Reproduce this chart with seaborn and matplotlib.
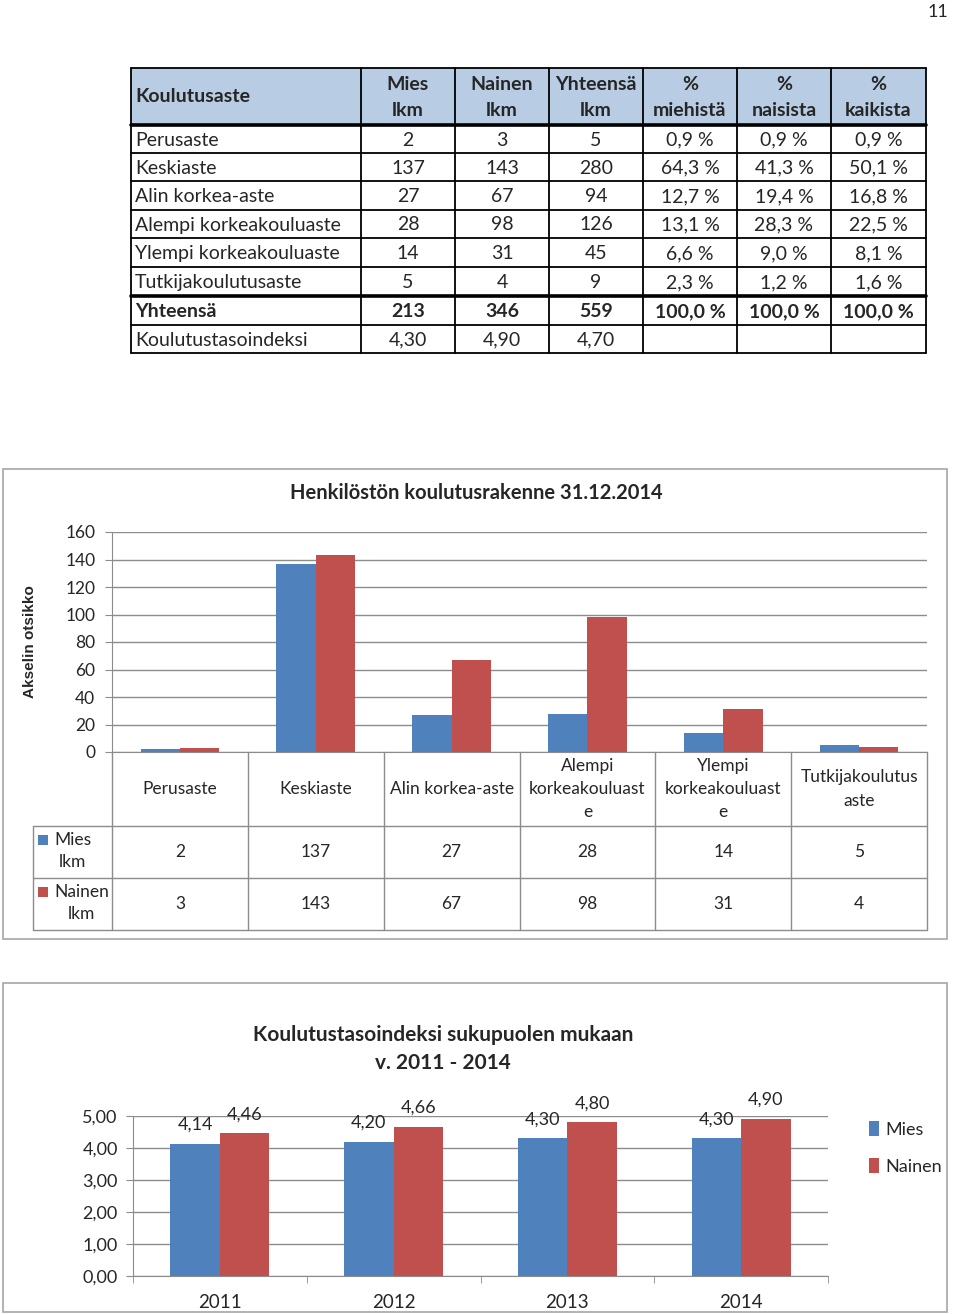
import matplotlib
matplotlib.use('Agg')
import matplotlib.pyplot as plt
import seaborn as sns
import pandas as pd
from matplotlib.patches import Rectangle
from matplotlib.ticker import FuncFormatter, MultipleLocator

# taulukon tiedot
asteet = ['Perusaste', 'Keskiaste', 'Alin korkea-aste', 'Alempi korkeakouluaste',
          'Ylempi korkeakouluaste', 'Tutkijakoulutusaste']
mies = [2, 137, 27, 28, 14, 5]
nainen = [3, 143, 67, 98, 31, 4]
yhteensa = [5, 280, 94, 126, 45, 9]
pct_miehista = [0.9, 64.3, 12.7, 13.1, 6.6, 2.3]
pct_naisista = [0.9, 41.3, 19.4, 28.3, 9.0, 1.2]
pct_kaikista = [0.9, 50.1, 16.8, 22.5, 8.1, 1.6]
summa = [213, 346, 559]
summa_pct = [100.0, 100.0, 100.0]
indeksi = [4.30, 4.90, 4.70]
otsikot = ['Mies\nlkm', 'Nainen\nlkm', 'Yhteensä\nlkm', '%\nmiehistä', '%\nnaisista', '%\nkaikista']

# kaavio 1
asteet_kaavio = ['Perusaste', 'Keskiaste', 'Alin korkea-aste', 'Alempi\nkorkeakouluast\ne',
                 'Ylempi\nkorkeakouluast\ne', 'Tutkijakoulutus\naste']
y_ticks1 = [0, 20, 40, 60, 80, 100, 120, 140, 160]

# kaavio 2
vuodet = ['2011', '2012', '2013', '2014']
indeksi_mies = [4.14, 4.20, 4.30, 4.30]
indeksi_nainen = [4.46, 4.66, 4.80, 4.90]

BLUE = '#4f81bd'
RED = '#c0504d'
GRID = '#8c8c8c'
TXT = '#262626'

sns.set_style('white')
plt.rcParams['font.family'] = ['Lato', 'DejaVu Sans']


def fi(v, d=2):
    return f"{v:.{d}f}".replace('.', ',')


def pct(v):
    return fi(v, 1) + ' %'


W, H = 960, 1314
fig = plt.figure(figsize=(W / 100, H / 100), dpi=100)


def box(x0, y0, x1, y1):
    return [x0 / W, 1 - y1 / H, (x1 - x0) / W, (y1 - y0) / H]


bg = fig.add_axes([0, 0, 1, 1])
bg.set_xlim(0, W)
bg.set_ylim(H, 0)
bg.axis('off')

bg.text(948, 12, '11', ha='right', va='center', fontsize=13)

# --- taulukko ---
cols = [131, 361, 455, 549, 643, 737, 831, 926]
rows = [68, 125, 153, 181, 210, 238, 267, 296, 325, 353]
bg.add_patch(Rectangle((cols[0], rows[0]), cols[-1] - cols[0], rows[1] - rows[0],
                       color='#b8cce4', lw=0))
for x in cols:
    bg.plot([x, x], [rows[0], rows[-1]], color='black', lw=1.3)
for y in rows:
    bg.plot([cols[0], cols[-1]], [y, y], color='black', lw=2.6 if y in (125, 296) else 1.3)

cx = [(cols[j] + cols[j + 1]) / 2 for j in range(len(cols) - 1)]
ry = [(rows[r] + rows[r + 1]) / 2 for r in range(len(rows) - 1)]

bg.text(135, ry[0], 'Koulutusaste', ha='left', va='center', fontsize=14, fontweight='bold')
for j, o in enumerate(otsikot):
    bg.text(cx[j + 1], ry[0] + 1, o, ha='center', va='center', fontsize=14,
            fontweight='bold', linespacing=1.7)

taulu = []
for i, a in enumerate(asteet):
    taulu.append([a, str(mies[i]), str(nainen[i]), str(yhteensa[i]),
                  pct(pct_miehista[i]), pct(pct_naisista[i]), pct(pct_kaikista[i])])
taulu.append(['Yhteensä'] + [str(s) for s in summa] + [pct(p) for p in summa_pct])
taulu.append(['Koulutustasoindeksi'] + [fi(v) for v in indeksi] + ['', '', ''])

for r, rivi in enumerate(taulu):
    paksu = 'bold' if rivi[0] == 'Yhteensä' else 'normal'
    y = ry[r + 1] + 1
    bg.text(135, y, rivi[0], ha='left', va='center', fontsize=14, fontweight=paksu)
    for j, s in enumerate(rivi[1:]):
        bg.text(cx[j + 1], y, s, ha='center', va='center', fontsize=14, fontweight=paksu)

# --- kaavio 1 ---
bg.add_patch(Rectangle((3, 469), 944, 470, fill=False, ec='#a6a6a6', lw=1.2))
fig.text(476 / W, 1 - 493 / H, 'Henkilöstön koulutusrakenne 31.12.2014', ha='center',
         va='center', fontsize=14.5, fontweight='bold', color=TXT)

ax1 = fig.add_axes(box(112, 532, 927, 752))
df1 = pd.DataFrame({'aste': asteet_kaavio * 2, 'lkm': mies + nainen,
                    'sukupuoli': ['Mies lkm'] * 6 + ['Nainen lkm'] * 6})
sns.barplot(data=df1, x='aste', y='lkm', hue='sukupuoli', palette=[BLUE, RED],
            width=0.58, gap=0, saturation=1, legend=False, linewidth=0, ax=ax1)
ax1.set_xlim(-0.5, 5.5)
ax1.set_ylim(0, 160)
ax1.set_yticks(y_ticks1)
ax1.set_xticks([])
ax1.set_xlabel('')
ax1.set_ylabel('Akselin otsikko', fontsize=11, fontweight='bold',
               family=['Liberation Sans', 'DejaVu Sans'])
ax1.yaxis.set_label_coords(-0.092, 0.5)
ax1.grid(axis='y', color=GRID, lw=1)
ax1.set_axisbelow(True)
for s in ['top', 'right']:
    ax1.spines[s].set_visible(False)
for s in ['left', 'bottom']:
    ax1.spines[s].set_color(GRID)
ax1.tick_params(axis='y', left=True, length=5, color=GRID, labelsize=12.5, labelcolor=TXT, pad=7)

unit = 815 / 6
xmin = -0.5 - 79 / unit
ax_dt = fig.add_axes(box(33, 752, 927, 931))
ax_dt.set_xlim(xmin, 5.5)
ax_dt.set_ylim(931, 752)
ax_dt.axis('off')
for k in range(7):
    ax_dt.plot([k - 0.5, k - 0.5], [752, 930], color=GRID, lw=1, clip_on=False)
for y in [826, 878, 930]:
    ax_dt.plot([xmin, 5.5], [y, y], color=GRID, lw=1, clip_on=False)
ax_dt.plot([xmin, xmin], [826, 930], color=GRID, lw=1, clip_on=False)
for i, lab in enumerate(asteet_kaavio):
    ax_dt.text(i, 789, lab, ha='center', va='center', fontsize=12.5, color=TXT, linespacing=1.55)
    ax_dt.text(i, 852, str(mies[i]), ha='center', va='center', fontsize=12.5, color=TXT)
    ax_dt.text(i, 904, str(nainen[i]), ha='center', va='center', fontsize=12.5, color=TXT)

bg.add_patch(Rectangle((38, 835), 10, 10, color=BLUE, lw=0))
bg.add_patch(Rectangle((38, 887), 10, 10, color=RED, lw=0))
bg.text(54, 851, 'Mies\nlkm', ha='left', va='center', multialignment='center',
        fontsize=12.5, color=TXT, linespacing=1.45)
bg.text(54, 903, 'Nainen\nlkm', ha='left', va='center', multialignment='center',
        fontsize=12.5, color=TXT, linespacing=1.45)

# --- kaavio 2 ---
bg.add_patch(Rectangle((3, 983), 944, 329, fill=False, ec='#a6a6a6', lw=1.2))
fig.text(443 / W, 1 - 1049 / H, 'Koulutustasoindeksi sukupuolen mukaan\nv. 2011 - 2014',
         ha='center', va='center', fontsize=15, fontweight='bold', linespacing=1.45, color=TXT)

ax2 = fig.add_axes(box(133, 1116, 828, 1276))
df2 = pd.DataFrame({'vuosi': vuodet * 2, 'indeksi': indeksi_mies + indeksi_nainen,
                    'sukupuoli': ['Mies'] * 4 + ['Nainen'] * 4})
sns.barplot(data=df2, x='vuosi', y='indeksi', hue='sukupuoli', palette=[BLUE, RED],
            width=0.57, gap=0, saturation=1, linewidth=0, ax=ax2)
ax2.set_xlim(-0.5, 3.5)
ax2.set_ylim(0, 5)
ax2.yaxis.set_major_locator(MultipleLocator(1))
ax2.yaxis.set_major_formatter(FuncFormatter(lambda v, p: fi(v)))
ax2.set_xlabel('')
ax2.set_ylabel('')
ax2.grid(axis='y', color=GRID, lw=1)
ax2.set_axisbelow(True)
for s in ['top', 'right']:
    ax2.spines[s].set_visible(False)
for s in ['left', 'bottom']:
    ax2.spines[s].set_color(GRID)
ax2.tick_params(axis='y', left=True, length=5, color=GRID, labelsize=13, labelcolor=TXT, pad=6)
ax2.tick_params(axis='x', which='major', length=0, labelsize=13.5, labelcolor=TXT, pad=13)
ax2.set_xticks([-0.5, 0.5, 1.5, 2.5, 3.5], minor=True)
ax2.tick_params(axis='x', which='minor', bottom=True, length=5, color=GRID)
for c in ax2.containers:
    ax2.bar_label(c, labels=[fi(v) for v in c.datavalues], padding=8, fontsize=13, color=TXT)
sns.move_legend(ax2, 'center left', bbox_to_anchor=(1.035, 0.80), title=None, frameon=False,
                fontsize=13, handlelength=0.6, handleheight=0.9, handletextpad=0.35,
                labelspacing=1.15)
for t in ax2.get_legend().get_texts():
    t.set_color(TXT)

fig.savefig('out.png', dpi=100)
